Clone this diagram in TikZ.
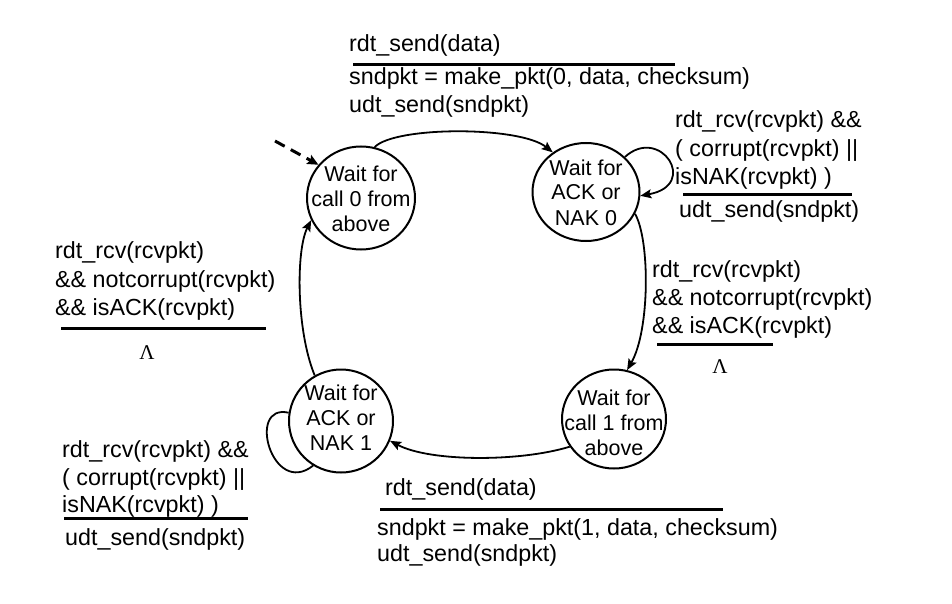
\documentclass[tikz,border=0pt]{standalone}
\usepackage{fontspec}
\setmainfont{Liberation Sans}
\newfontfamily\lamfont{Liberation Serif}
\usetikzlibrary{arrows.meta,shapes.geometric}
\newcommand\stxt[2]{\smash{\raisebox{#1}{\makebox[0pt]{\begin{tabular}[t]{@{}c@{}}#2\end{tabular}}}}}
\begin{document}
\begin{tikzpicture}[x=1pt,y=-1pt,
  state/.style={ellipse,draw,line width=2pt,inner sep=0pt,
    font=\fontsize{21.5}{25}\selectfont},
  lbl/.style={anchor=base west,inner sep=0pt,font=\fontsize{23.3}{28}\selectfont},
  edge/.style={line width=1.8pt,-{Stealth[length=11pt,width=9pt,inset=2pt]}},
  bar/.style={line width=3pt},
  lam/.style={inner sep=0pt,font=\lamfont\fontsize{21}{24}\selectfont}]
\useasboundingbox (0,0) rectangle (952,604);

% states
\node[state,minimum width=108pt,minimum height=103pt] (s0) at (361,198)
  {\stxt{16.5pt}{Wait for\\call 0 from\\above}};
\node[state,minimum width=107pt,minimum height=98pt] (s1) at (586,192)
  {\stxt{17pt}{Wait for\\ACK or\\NAK 0}};
\node[state,minimum width=104pt,minimum height=103pt] (s2) at (341,421)
  {\stxt{21pt}{Wait for\\ACK or\\NAK 1}};
\node[state,minimum width=104pt,minimum height=99pt] (s3) at (614,419)
  {\stxt{14pt}{Wait for\\call 1 from\\above}};

% initial
\coordinate (init) at (275,141);
\draw[line width=3pt,dash pattern=on 11pt off 7pt,-{Stealth[length=11pt,width=10pt,inset=2pt]}] (init) -- (s0.142);

% transitions
\draw[edge] (s0.75) .. controls (395,126) and (520,126) .. (s1.130);
\draw[edge] (s1.42) .. controls (660,125) and (700,185) .. (s1.-4);
\draw[edge] (s1.-24) .. controls (650,240) and (650,330) .. (s3.75);
\draw[edge] (s3.212) .. controls (520,462) and (430,462) .. (s2.-22);
\draw[line width=1.8pt] (s2.171) .. controls (246,403) and (272,498) .. (s2.238);
\draw[edge] (s2.120) .. controls (296,330) and (296,250) .. (s0.204);

% top label
\node[lbl] (a1) at (349,52) {rdt\_send(data)};
\draw[bar] (353,65) -- (675,65);
\node[lbl] (a2) at (349,85) {sndpkt = make\_pkt(0, data, checksum)};
\node[lbl] (a3) at (349,113) {udt\_send(sndpkt)};

% top right label
\node[lbl] (b1) at (675,128) {rdt\_rcv(rcvpkt) \&\&};
\node[lbl] (b2) at (675,157) {( corrupt(rcvpkt) ||};
\node[lbl] (b3) at (675,185) {isNAK(rcvpkt) )};
\draw[bar] (683,194) -- (852,194);
\node[lbl] (b4) at (679,217) {udt\_send(sndpkt)};

% right label
\node[lbl] (c1) at (652,277) {rdt\_rcv(rcvpkt)};
\node[lbl] (c2) at (652,305) {\&\& notcorrupt(rcvpkt)};
\node[lbl] (c3) at (652,333) {\&\& isACK(rcvpkt)};
\draw[bar] (657,344) -- (773,344);
\node[lam] (c4) at (720,367) {Λ};

% left label
\node[lbl] (d1) at (55,258) {rdt\_rcv(rcvpkt)};
\node[lbl] (d2) at (55,287) {\&\& notcorrupt(rcvpkt)};
\node[lbl] (d3) at (55,315) {\&\& isACK(rcvpkt)};
\draw[bar] (61,328) -- (266,328);
\node[lam] (d4) at (147,353) {Λ};

% bottom left label
\node[lbl] (e1) at (62,457) {rdt\_rcv(rcvpkt) \&\&};
\node[lbl] (e2) at (62,485) {( corrupt(rcvpkt) ||};
\node[lbl] (e3) at (62,512) {isNAK(rcvpkt) )};
\draw[bar] (64,518) -- (248,518);
\node[lbl] (e4) at (65,545) {udt\_send(sndpkt)};

% bottom label
\node[lbl] (f1) at (385,495) {rdt\_send(data)};
\draw[bar] (380,509) -- (723,509);
\node[lbl] (f2) at (377,535) {sndpkt = make\_pkt(1, data, checksum)};
\node[lbl] (f3) at (377,561) {udt\_send(sndpkt)};
\end{tikzpicture}
\end{document}
